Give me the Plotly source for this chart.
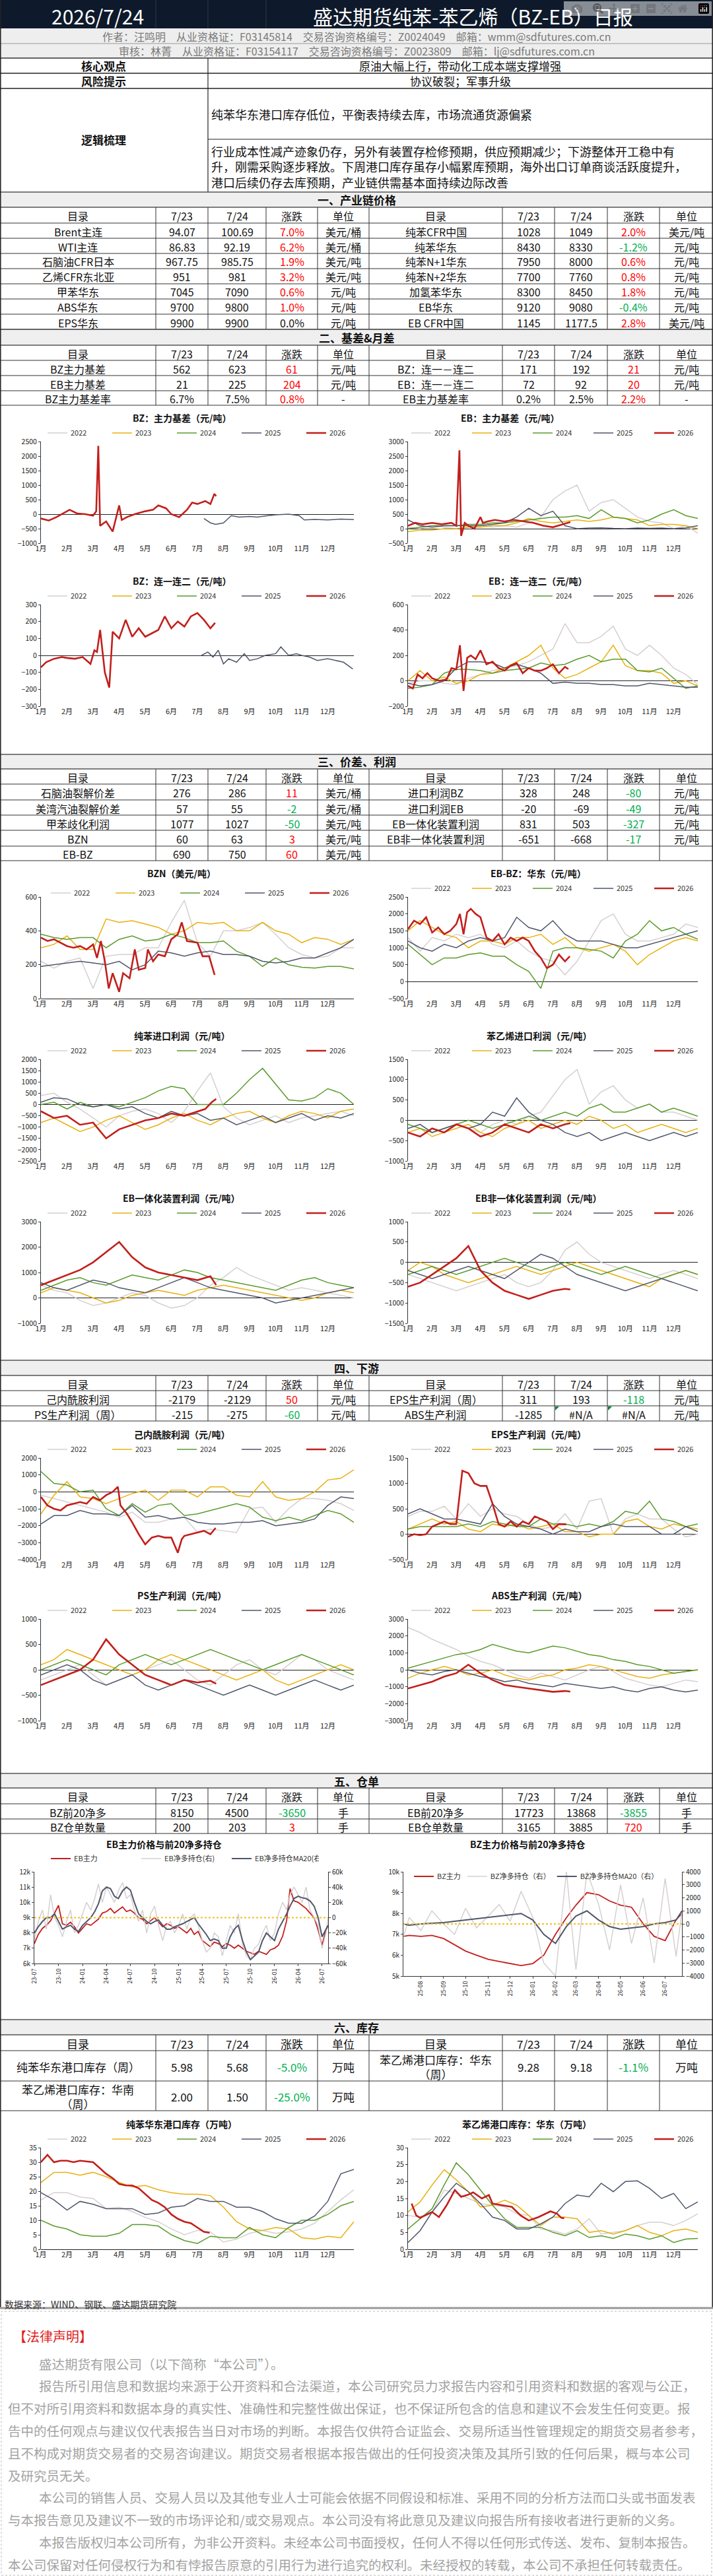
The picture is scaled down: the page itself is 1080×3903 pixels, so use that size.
import plotly.graph_objects as go

# Page size in px and base font
W, H = 1080, 3903
FONT = "Noto Sans CJK SC"
RED, GREEN = "#ff0000", "#00b050"
YEAR_COLORS = {"2022": "#d6cfd0", "2023": "#e8b00f", "2024": "#5a9a2c", "2025": "#4f566a", "2026": "#c21f1c"}

# ---------------- header texts ----------------
report_date = "2026/7/24"
report_title = "盛达期货纯苯-苯乙烯（BZ-EB）日报"
author_line = "作者：汪鸣明　从业资格证：F03145814　交易咨询资格编号：Z0024049　邮箱：wmm@sdfutures.com.cn"
review_line = "审核：林菁　从业资格证：F03154117　交易咨询资格编号：Z0023809　邮箱：lj@sdfutures.com.cn"
core_view = "原油大幅上行，带动化工成本端支撑增强"
risk_note = "协议破裂；军事升级"
logic_1 = "纯苯华东港口库存低位，平衡表持续去库，市场流通货源偏紧"
logic_2 = ["行业成本性减产迹象仍存，另外有装置存检修预期，供应预期减少；下游整体开工稳中有",
           "升，刚需采购逐步释放。下周港口库存虽存小幅累库预期，海外出口订单商谈活跃度提升，",
           "港口后续仍存去库预期，产业链供需基本面持续边际改善"]

# ---------------- table rows ----------------
table_head = ("目录", "7/23", "7/24", "涨跌", "单位", "目录", "7/23", "7/24", "涨跌", "单位")
chain_rows = [
    ("Brent主连", "94.07", "100.69", "7.0%", "美元/桶", "纯苯CFR中国", "1028", "1049", "2.0%", "美元/吨"),
    ("WTI主连", "86.83", "92.19", "6.2%", "美元/桶", "纯苯华东", "8430", "8330", "-1.2%", "元/吨"),
    ("石脑油CFR日本", "967.75", "985.75", "1.9%", "美元/吨", "纯苯N+1华东", "7950", "8000", "0.6%", "元/吨"),
    ("乙烯CFR东北亚", "951", "981", "3.2%", "美元/吨", "纯苯N+2华东", "7700", "7760", "0.8%", "元/吨"),
    ("甲苯华东", "7045", "7090", "0.6%", "元/吨", "加氢苯华东", "8300", "8450", "1.8%", "元/吨"),
    ("ABS华东", "9700", "9800", "1.0%", "元/吨", "EB华东", "9120", "9080", "-0.4%", "元/吨"),
    ("EPS华东", "9900", "9900", "0.0%", "元/吨", "EB CFR中国", "1145", "1177.5", "2.8%", "美元/吨"),
]
basis_rows = [
    ("BZ主力基差", "562", "623", "61", "元/吨", "BZ：连一－连二", "171", "192", "21", "元/吨"),
    ("EB主力基差", "21", "225", "204", "元/吨", "EB：连一－连二", "72", "92", "20", "元/吨"),
    ("BZ主力基差率", "6.7%", "7.5%", "0.8%", "-", "EB主力基差率", "0.2%", "2.5%", "2.2%", "-"),
]
spread_rows = [
    ("石脑油裂解价差", "276", "286", "11", "美元/桶", "进口利润BZ", "328", "248", "-80", "元/吨"),
    ("美湾汽油裂解价差", "57", "55", "-2", "美元/桶", "进口利润EB", "-20", "-69", "-49", "元/吨"),
    ("甲苯歧化利润", "1077", "1027", "-50", "美元/吨", "EB一体化装置利润", "831", "503", "-327", "元/吨"),
    ("BZN", "60", "63", "3", "美元/吨", "EB非一体化装置利润", "-651", "-668", "-17", "元/吨"),
    ("EB-BZ", "690", "750", "60", "美元/吨", "", "", "", "", ""),
]
down_rows = [
    ("己内酰胺利润", "-2179", "-2129", "50", "元/吨", "EPS生产利润（周）", "311", "193", "-118", "元/吨"),
    ("PS生产利润（周）", "-215", "-275", "-60", "元/吨", "ABS生产利润", "-1285", "#N/A", "#N/A", "元/吨"),
]
receipt_rows = [
    ("BZ前20净多", "8150", "4500", "-3650", "手", "EB前20净多", "17723", "13868", "-3855", "手"),
    ("BZ仓单数量", "200", "203", "3", "手", "EB仓单数量", "3165", "3885", "720", "手"),
]
stock_rows = [
    ("纯苯华东港口库存（周）", "5.98", "5.68", "-5.0%", "万吨", "苯乙烯港口库存：华东<br>（周）", "9.28", "9.18", "-1.1%", "万吨"),
    ("苯乙烯港口库存：华南<br>（周）", "2.00", "1.50", "-25.0%", "万吨", "", "", "", "", ""),
]

# ---------------- seasonal series (x = month, 1 = 1月1日) ----------------
MONTH_TICKS = [1, 2, 3, 4, 5, 6, 7, 8, 9, 10, 11, 12]
MONTH_LABELS = ["1月", "2月", "3月", "4月", "5月", "6月", "7月", "8月", "9月", "10月", "11月", "12月"]
GRID = [1, 1.5, 2, 2.5, 3, 3.5, 4, 4.5, 5, 5.5, 6, 6.5, 7, 7.5, 8, 8.5, 9, 9.5, 10, 10.5, 11, 11.5, 12, 12.5, 13]
GRID_26 = [1, 1.5, 2, 2.5, 3, 3.5, 4, 4.5, 5, 5.5, 6, 6.5, 7, 7.5, 7.72]

# BZ main basis
bz_basis_2025_x = [7.25, 7.5, 7.7, 8, 8.3, 8.6, 9, 9.3, 9.6, 10, 10.5, 10.9, 11.1, 11.5, 12, 12.5, 13]
bz_basis_2025 = [-150, -300, -350, -300, -50, -100, -80, -100, -60, -20, 0, -50, -200, -180, -200, -170, -190]
bz_basis_2026_x = [1, 1.3, 1.6, 1.9, 2.1, 2.4, 2.7, 3.0, 3.12, 3.2, 3.27, 3.5, 3.75, 4.0, 4.1, 4.3, 4.6, 5.0,
                   5.3, 5.5, 5.8, 6.0, 6.3, 6.6, 6.8, 7.0, 7.3, 7.5, 7.65, 7.72]
bz_basis_2026 = [-150, -220, -100, 50, 150, 20, 0, -50, 100, 2350, -400, -250, -600, 300, -200, -100, 0, 100,
                 150, 300, 200, 0, -100, 150, 400, 350, 450, 350, 700, 620]

# EB main basis
eb_basis_2022 = [50, 0, 100, 50, 0, 50, 100, 50, 100, 50, 200, 400, 1000, 1300, 1500, 600, 900, 1000, 700, 400, 250, 200, 0, 100, -150]
eb_basis_2023 = [-100, -50, -50, 0, 0, 50, 50, 100, 100, 200, 350, 250, 200, 250, 300, 250, 300, 400, 350, 300, 100, 150, 150, 100, 0]
eb_basis_2024 = [0, 50, 100, 100, 100, 150, 150, 200, 200, 250, 300, 350, 400, 400, 450, 350, 650, 400, 350, 200, 300, 500, 650, 450, 350]
eb_basis_2025 = [300, 100, 50, 100, 100, 100, 100, 150, 200, 400, 700, 450, 600, 100, 0, 20, 30, 10, 0, 20, 10, 20, 0, 30, 100]
eb_basis_2026_x = [1, 1.3, 1.6, 2, 2.4, 2.8, 3.0, 3.13, 3.2, 3.35, 3.5, 3.75, 4.0, 4.1, 4.3, 4.6, 5.0, 5.4, 5.8, 6.2, 6.6, 7.0, 7.4, 7.72]
eb_basis_2026 = [100, 200, 150, 200, 150, 200, 100, 2700, -250, 200, 100, 0, 400, 200, 250, 300, 250, 300, 250, 200, 100, 50, 150, 225]

# BZ 1st-2nd month spread
bz_spread_2025_x = [7.16, 7.4, 7.6, 7.8, 8.0, 8.2, 8.5, 8.8, 9.0, 9.3, 9.6, 10.0, 10.2, 10.5, 10.8, 11.0, 11.3, 11.6, 12.0, 12.3, 12.6, 12.96]
bz_spread_2025 = [0, 20, -10, 30, -50, -20, -40, 10, -30, -20, 0, 10, 50, 0, 10, 0, -10, -30, -20, -30, -40, -80]
bz_spread_2026_x = [1, 1.2, 1.5, 1.8, 2.0, 2.3, 2.6, 2.9, 3.05, 3.15, 3.27, 3.45, 3.62, 3.75, 4.0, 4.25, 4.5, 4.75, 5.0, 5.25,
                    5.5, 5.75, 6.0, 6.25, 6.5, 6.75, 7.0, 7.25, 7.5, 7.68]
bz_spread_2026 = [-70, -40, -20, -10, -15, -20, -10, -50, 30, 20, 150, -100, -190, 140, 100, 210, 110, 160, 110, 130,
                  150, 230, 160, 200, 170, 230, 250, 210, 160, 192]

# EB 1st-2nd month spread
eb_spread_2022 = [-20, 0, 0, -20, -30, 20, 50, 80, 100, 120, 150, 200, 250, 450, 300, 300, 350, 430, 250, 200, 280, 200, 100, 50, -30]
eb_spread_2023 = [0, 80, 0, 30, -20, 0, 50, 60, 100, 150, 200, 280, 100, 20, 50, 100, 150, 280, 120, 80, 80, 60, -20, 0, -40]
eb_spread_2024 = [-60, -50, -30, 60, 90, 90, 80, 60, 80, 90, 100, 140, 120, 130, 170, 200, 150, 170, 170, 80, 70, 100, 20, -60, -40]
eb_spread_2025 = [-20, -40, -30, 0, 100, 150, 150, 140, 100, 130, 100, 60, -20, -10, -20, -20, -30, -30, -40, -40, -20, -30, -40, -50, -50]
eb_spread_2026_x = [1, 1.2, 1.4, 1.6, 1.8, 2.0, 2.3, 2.6, 2.8, 3.0, 3.15, 3.3, 3.45, 3.6, 3.8, 4.0, 4.25, 4.5, 4.75, 5.0,
                    5.25, 5.5, 5.75, 6.0, 6.25, 6.5, 6.75, 7.0, 7.25, 7.5, 7.64]
eb_spread_2026 = [-40, -60, 50, 20, 60, 20, 0, 10, 100, 90, 280, -80, 180, 200, 170, 240, 130, 150, 100, 80,
                  120, 140, 60, 100, 80, 80, 100, 130, 60, 110, 92]

# BZN
bzn_2022 = [220, 180, 220, 240, 60, 250, 260, 260, 300, 300, 450, 580, 330, 250, 400, 400, 420, 450, 380, 300, 260, 240, 250, 300, 300]
bzn_2023 = [300, 320, 370, 290, 290, 470, 450, 460, 440, 420, 380, 400, 450, 440, 450, 400, 400, 450, 400, 380, 330, 360, 350, 320, 350]
bzn_2024 = [380, 360, 350, 360, 360, 300, 350, 370, 340, 350, 380, 360, 330, 330, 340, 280, 250, 190, 240, 200, 185, 180, 190, 190, 175]
bzn_2025 = [190, 200, 210, 220, 210, 200, 220, 170, 200, 280, 270, 250, 270, 280, 260, 260, 250, 220, 210, 220, 240, 240, 270, 300, 350]
bzn_2026_x = [1, 1.25, 1.5, 1.75, 2, 2.25, 2.5, 2.75, 3, 3.15, 3.3, 3.45, 3.6, 3.75, 4, 4.15, 4.4, 4.6, 4.75, 5,
              5.1, 5.3, 5.5, 5.75, 6, 6.25, 6.4, 6.6, 7, 7.2, 7.45, 7.66]
bzn_2026 = [360, 340, 350, 330, 310, 300, 310, 290, 320, 240, 340, 220, 60, 150, 40, 150, 120, 290, 170, 180,
            290, 220, 260, 250, 350, 380, 450, 340, 330, 250, 250, 140]

# EB-BZ east china
eb_bz_2022 = [1300, 900, 1300, 1200, 1400, 1300, 1400, 1100, 1000, 1200, 900, 700, 600, 200, 600, 1200, 1800, 2000, 1400, 1200, 1200, 1300, 1400, 1700, 1600]
eb_bz_2023 = [1500, 1800, 1600, 1400, 1300, 1000, 1200, 1200, 1100, 1300, 1300, 1400, 1100, 1300, 1000, 900, 1000, 1100, 900, 500, 800, 1000, 1200, 1300, 1200]
eb_bz_2024 = [1100, 800, 500, 700, 700, 800, 850, 750, 750, 500, 300, -200, 900, 1000, 1000, 950, 900, 700, 1200, 1400, 1800, 1500, 1600, 1400, 1250]
eb_bz_2025 = [1200, 1000, 900, 1100, 1000, 1200, 1300, 1200, 1300, 1900, 1600, 1500, 1800, 1400, 1200, 1200, 1200, 1100, 1000, 1000, 1100, 1200, 1300, 1400, 1500]
eb_bz_2026_x = [1, 1.25, 1.5, 1.75, 2, 2.25, 2.5, 2.75, 3, 3.15, 3.3, 3.45, 3.6, 3.8, 4, 4.25, 4.5, 4.75, 5, 5.25,
                5.5, 5.75, 6, 6.25, 6.5, 6.75, 7, 7.25, 7.5, 7.7]
eb_bz_2026 = [1550, 1800, 1700, 1900, 1450, 1600, 1400, 1500, 1700, 2000, 1400, 2050, 2150, 2000, 1900, 1300, 1200, 1400, 1100, 1300,
              1200, 1300, 1200, 900, 700, 400, 500, 800, 600, 750]

# BZ import profit
bz_import_2022 = [400, 500, 100, -200, -600, -1000, -500, -300, -200, -400, -800, -300, 600, 1400, -100, -600, -900, -700, -500, -800, -600, -500, -400, -300, -500]
bz_import_2023 = [-800, -600, -900, -1200, -1000, -700, -500, -800, -1100, -900, -600, -400, -700, -900, -600, -400, -300, -600, -800, -500, -300, -400, -600, -300, -200]
bz_import_2024 = [0, 100, -200, 100, -100, 0, -100, 100, 300, 600, 800, 700, 0, 0, 0, 500, 1100, 1600, 900, 200, 150, 300, 700, 500, 0]
bz_import_2025 = [100, 300, 250, 0, -100, 0, -200, -100, -400, -600, -300, -500, -400, -700, -600, -900, -700, -500, -800, -600, -400, -700, -500, -600, -400]
bz_import_2026_x = [1, 1.5, 2, 2.5, 3, 3.5, 4, 4.5, 5, 5.5, 6, 6.5, 7, 7.3, 7.55, 7.72]
bz_import_2026 = [-300, -600, -500, -900, -800, -1500, -1100, -900, -700, -600, -400, -500, -300, -200, 100, 248]

# EB import profit
eb_import_2022 = [-200, -100, -300, -200, -100, -200, -300, -100, 0, -100, 100, 200, 600, 1000, 1250, 400, 700, 850, 500, 300, 400, 200, 200, 100, 0]
eb_import_2023 = [-300, -200, -400, -300, -200, -100, -300, -400, -200, -100, 0, -200, -100, 0, -100, 100, 0, -200, -100, -300, -200, -100, -200, -300, -200]
eb_import_2024 = [-100, -200, -300, -200, -100, 0, -100, -200, -100, 0, 100, 0, 100, 200, 100, 300, 400, 200, 200, 300, 400, 200, 300, 200, 100]
eb_import_2025 = [-200, -100, -300, -200, -100, -200, -100, 200, 100, 550, 200, 0, -100, -300, -400, -300, -500, -400, -300, -400, -500, -400, -300, -400, -300]
eb_import_2026 = [-300, -400, -200, -300, -100, -200, -400, -300, -100, -200, -300, -100, -200, -100, -69]

# EB integrated plant profit
eb_int_2022 = [500, 300, 200, -100, -300, -200, 0, 200, 100, -200, -400, -300, 0, 500, 800, 1200, 900, 700, 500, 300, 400, 300, 200, 100, 0]
eb_int_2023 = [200, 400, 300, 200, 0, -200, -100, 100, 200, 300, 200, 100, 300, 400, 500, 400, 300, 200, 100, 0, -100, 0, 200, 300, 200]
eb_int_2024 = [300, 500, 700, 800, 600, 500, 700, 900, 800, 700, 900, 1100, 1000, 800, 700, 600, 500, 400, 300, 500, 700, 800, 600, 500, 400]
eb_int_2025 = [600, 400, 300, 500, 700, 600, 400, 300, 200, 400, 600, 800, 600, 400, 300, 200, 100, 0, -200, -100, 0, 100, 200, 300, 400]
eb_int_2026 = [500, 700, 900, 1100, 1400, 1800, 2200, 1600, 1200, 1000, 900, 800, 700, 850, 503]

# EB non-integrated plant profit
eb_nonint_2022 = [-300, -400, -500, -600, -700, -600, -500, -400, -300, -500, -600, -500, -200, 300, 500, 200, 0, -100, -200, -300, -400, -300, -200, -300, -400]
eb_nonint_2023 = [-200, 0, -100, -300, -400, -500, -400, -300, -200, -100, -200, -300, -200, -100, 0, -100, -200, -300, -400, -500, -600, -400, -300, -200, -300]
eb_nonint_2024 = [-300, -200, -100, -200, -300, -200, -100, 0, 100, 0, -100, -200, -100, 0, -100, -200, -300, -200, -100, -200, -300, -400, -300, -200, -300]
eb_nonint_2025 = [-200, -300, -400, -300, -200, -100, -200, -300, -400, -200, 0, 200, 100, -100, -300, -400, -500, -600, -700, -600, -500, -400, -500, -600, -700]
eb_nonint_2026 = [-600, -500, -300, -100, 100, 400, -200, -500, -700, -800, -900, -800, -700, -651, -668]

# Caprolactam profit
cpl_2022 = [-200, -400, -600, -800, -1000, -1200, -1500, -1200, -1800, -1800, -1600, -1500, -2400, -2200, -2300, -2400, -1000, -900, -1800, -1000, -400, -400, -500, -700, -1100]
cpl_2023 = [-1300, -200, 600, -300, -400, -700, -400, -100, 100, -500, 100, 100, -300, 300, 300, -200, -300, 600, -300, -500, -400, 0, 700, 800, 1300]
cpl_2024 = [1200, 500, 400, 0, 100, -1000, -1400, -700, -1200, -800, -700, -1400, -1300, -1100, -900, -700, -900, -1500, -1700, -1500, -1700, -1400, -1100, -1300, -1800]
cpl_2025 = [-1900, -1400, -1400, -1100, -1300, -1300, -1400, -800, -1500, -1400, -1600, -1500, -1800, -1900, -1900, -1800, -1800, -1700, -2000, -1900, -1800, -1600, -800, -300, -400]
cpl_2026_x = [1, 1.25, 1.5, 1.75, 2, 2.25, 2.5, 2.75, 3, 3.25, 3.5, 3.75, 3.95, 4.05, 4.3, 4.5, 4.75, 5, 5.25, 5.5,
              5.75, 6, 6.25, 6.4, 6.5, 6.75, 7, 7.25, 7.5, 7.7]
cpl_2026 = [-300, -800, -1000, -1100, -800, -700, -600, -700, -300, -500, -200, 0, 300, -800, -1300, -1800, -2500, -3100, -2700, -2600,
            -2700, -2700, -3600, -2800, -2600, -2500, -2400, -2300, -2500, -2129]

# EPS production profit
eps_2022 = [350, 450, 450, 550, 300, 600, 350, 500, 400, 350, 200, 100, 150, 400, 100, 650, 700, 0, 300, 400, 300, 300, 100, -50, 0]
eps_2023 = [100, 200, 300, 200, 250, 100, 50, 200, 150, 200, 100, 150, 200, 50, 50, -50, 0, 0, 250, 300, 150, 100, 200, 150, 100]
eps_2024 = [100, 150, 150, 150, 150, 200, 150, 250, 200, 150, 150, 300, 200, 200, 150, 200, 150, 250, 450, 400, 650, 300, 250, 150, 200]
eps_2025 = [400, 500, 400, 300, 300, 250, 200, 600, 350, 200, 150, 100, 0, 100, 50, 50, 150, 200, 150, 150, 150, 0, 0, 150, 50]
eps_2026_x = [1, 1.25, 1.5, 1.75, 2, 2.25, 2.5, 2.75, 3, 3.25, 3.5, 3.75, 4, 4.25, 4.5, 4.75, 5, 5.25, 5.5, 5.75,
              6, 6.25, 6.5, 6.75, 7, 7.25, 7.55]
eps_2026 = [-50, 0, -20, 0, 150, 200, 250, 200, 200, 1250, 1200, 1000, 950, 950, 600, 200, 150, 250, 150, 250,
            200, 350, 300, 250, 100, 200, 193]

# PS production profit
ps_2022 = [-200, -100, 0, 100, -100, -300, -200, -100, 0, 100, 200, 0, -200, -300, -100, 100, 200, 0, -100, 100, 300, 200, 0, -100, -200]
ps_2023 = [100, 200, 400, 300, 200, 100, 0, -100, 0, 200, 300, 200, 100, 0, -100, -200, -100, 0, -200, -300, -200, -100, 0, 100, 0]
ps_2024 = [0, 100, 200, 100, 0, -100, 100, 200, 300, 200, 100, 200, 300, 400, 300, 200, 100, 0, 100, 200, 300, 200, 100, 0, -100]
ps_2025 = [-100, 0, 100, 0, -200, -300, -200, -100, -300, -400, -300, -200, -300, -400, -500, -400, -300, -400, -500, -400, -300, -200, -300, -400, -300]
ps_2026 = [-300, -200, -100, 0, 200, 600, 300, 100, -100, -200, -300, -200, -250, -215, -275]

# ABS production profit
abs_2022 = [2500, 2200, 1800, 1500, 1200, 800, 500, 300, 0, -300, -500, -200, -400, -600, -300, 0, 200, -100, -500, -700, -900, -1000, -800, -600, -700]
abs_2023 = [-500, -200, 0, 200, 0, -300, -200, 0, -300, -500, -600, -400, -300, 0, 100, 300, 200, 0, -200, -400, -500, -300, -200, -100, 0]
abs_2024 = [100, 300, 500, 700, 900, 1000, 1200, 1500, 1300, 1100, 1000, 1200, 1400, 1300, 1100, 900, 800, 600, 500, 300, 200, 0, -200, -100, 0]
abs_2025 = [0, -200, -300, -100, 0, -200, -400, -500, -700, -600, -800, -900, -1000, -800, -900, -1000, -1100, -1000, -1200, -1300, -1100, -1000, -1200, -1300, -1200]
abs_2026 = [-1100, -900, -700, -400, -200, 300, -200, -600, -900, -1000, -1100, -1200, -1300, -1250, -1285]

# BZ east china port stock (10kt)
bz_stock_2022 = [17, 19.5, 19.5, 18, 17.5, 14, 14.5, 13, 11, 9.5, 7, 5, 6.5, 6, 2.5, 3.5, 5.5, 6.5, 5.5, 6, 7, 9, 13, 17, 20.5]
bz_stock_2023 = [23, 26.5, 26.5, 25.5, 26.5, 25, 23, 21.5, 22, 20.5, 19.5, 19, 19, 18.5, 14.5, 9.5, 7, 6.5, 7.5, 7, 4, 3.5, 4.5, 4, 9.5]
bz_stock_2024 = [10, 8, 7, 5, 4.5, 4.5, 5.5, 8.5, 8.5, 8, 5, 3, 2, 4.5, 4, 4, 7.5, 5, 4, 7.5, 10, 10, 12, 15, 16.5]
bz_stock_2025 = [19.5, 17, 13.5, 16.5, 15.5, 14, 14, 14, 12, 12.5, 14.5, 15, 17.5, 16.5, 16.5, 14.5, 14.5, 13, 10.5, 9, 9, 11.5, 16.5, 26, 27.5]
bz_stock_2026_x = [1, 1.25, 1.5, 1.75, 2, 2.25, 2.5, 2.75, 3, 3.25, 3.5, 3.75, 4, 4.25, 4.5, 4.75, 5, 5.25, 5.5, 5.75,
                   6, 6.25, 6.5, 6.75, 7, 7.25, 7.47]
bz_stock_2026 = [30, 32.5, 30, 30.5, 30.5, 30, 30.5, 30.3, 30, 28, 26, 24.5, 22.5, 22, 22, 21, 19, 17, 16, 14.5,
                 12, 10.5, 9.5, 9, 7.5, 6, 5.68]

# EB east china port stock (10kt)
eb_stock_2022 = [10, 9.5, 11, 17.5, 16.5, 15, 13.5, 13, 12.5, 10.5, 10, 6, 5.5, 4.5, 6, 9, 4.5, 5, 5.5, 7, 8, 8, 7, 8.5, 10.5]
eb_stock_2023 = [11, 14, 19, 23.5, 20.5, 17, 12.5, 13, 14.5, 13, 10, 7, 9.5, 9.5, 9, 5, 5.5, 4.5, 5.5, 7, 5, 4, 5.5, 6, 5]
eb_stock_2024 = [6, 9, 12, 19, 25.5, 22, 17.5, 13, 9, 6.5, 6.5, 6.5, 5, 4, 5.5, 3.5, 4, 3.2, 4.5, 4, 3, 4, 2, 3, 3.2]
eb_stock_2025 = [2, 5.5, 11, 15.5, 19.5, 17, 13.5, 9.5, 8.5, 6, 6, 7.5, 9.5, 13.5, 16, 15.5, 19.5, 17, 20, 20.2, 18, 15, 16.5, 12, 14]
eb_stock_2026_x = [1.15, 1.34, 1.5, 1.7, 2.0, 2.28, 2.6, 2.94, 3.2, 3.45, 3.7, 4.06, 4.35, 4.5, 4.9, 5.3, 5.66, 6.0, 6.4, 6.7,
                   6.9, 7.17, 7.35, 7.47]
eb_stock_2026 = [13.5, 10, 9.3, 10, 11, 9.5, 13, 17.5, 15.5, 16, 16.8, 15, 16, 13.5, 13, 12.5, 10, 8.5, 9.5, 10.5,
                 11.2, 10.5, 9.28, 9.18]

# ---------------- futures price vs top-20 net long ----------------
eb_dates = ["2023-07-01", "2023-07-16", "2023-08-01", "2023-08-16", "2023-09-01", "2023-09-16", "2023-10-01", "2023-10-16",
            "2023-11-01", "2023-11-16", "2023-12-01", "2023-12-16", "2024-01-01", "2024-01-16", "2024-02-01", "2024-02-16",
            "2024-03-01", "2024-03-16", "2024-04-01", "2024-04-16", "2024-05-01", "2024-05-16", "2024-06-01", "2024-06-16",
            "2024-07-01", "2024-07-16", "2024-08-01", "2024-08-16", "2024-09-01", "2024-09-16", "2024-10-01", "2024-10-16",
            "2024-11-01", "2024-11-16", "2024-12-01", "2024-12-16", "2025-01-01", "2025-01-16", "2025-02-01", "2025-02-16",
            "2025-03-01", "2025-03-16", "2025-04-01", "2025-04-16", "2025-05-01", "2025-05-16", "2025-06-01", "2025-06-16",
            "2025-07-01", "2025-07-16", "2025-08-01", "2025-08-16", "2025-09-01", "2025-09-16", "2025-10-01", "2025-10-16",
            "2025-11-01", "2025-11-16", "2025-12-01", "2025-12-16", "2026-01-01", "2026-01-16", "2026-02-01", "2026-02-16",
            "2026-03-01", "2026-03-16", "2026-04-01", "2026-04-16", "2026-05-01", "2026-05-16", "2026-06-01", "2026-06-16",
            "2026-07-01", "2026-07-16", "2026-07-24"]
eb_main = [7300, 7900, 8300, 8500, 8800, 9300, 9800, 8600, 8500, 8700, 8400, 8000,
           8300, 8600, 8500, 8700, 8900, 9300, 9400, 9600, 9300, 9500, 9700, 9400,
           9500, 9300, 9000, 8900, 8600, 8800, 9000, 8700, 8400, 8600, 8500, 8300,
           8400, 8200, 8000, 8300, 7900, 8100, 7500, 7300, 7100, 7400, 7300, 7100,
           7300, 7200, 7000, 7200, 7000, 6800, 6700, 6600, 6800, 6700, 6600, 6900,
           7000, 7200, 7800, 8800, 10900, 10100, 10000, 9800, 9600, 9300, 9000, 8200,
           7200, 8200, 8500]
eb_net = [-30000, -5000, 10000, -15000, 30000, 0, -10000, -25000, -5000, 10000, -20000, -10000,
          5000, 20000, 10000, 25000, 44000, 20000, 40000, 30000, 20000, 35000, 46000, 25000,
          30000, 10000, -5000, 10000, -20000, 5000, 15000, -10000, -30000, -10000, -5000, -20000,
          -10000, 5000, -15000, 0, 5000, -10000, -30000, -45000, -40000, -20000, -25000, -50000,
          -30000, -10000, -20000, 5000, -35000, -50000, -55000, -40000, -35000, -20000, -10000, -30000,
          -20000, 5000, 20000, 10000, 30000, 40000, 30000, 20000, 40000, 10000, 0, -10000,
          -40000, -20000, 0]
eb_net_ma20 = [-20000, -12000, -5000, 0, 0, 5000, -5000, -15000, -12000, -10000, -15000, -18000,
               -10000, -5000, 0, 8000, 18000, 35000, 40000, 38000, 28000, 25000, 35000, 40000,
               36000, 20000, 5000, 0, -5000, -8000, -5000, -3000, -10000, -15000, -15000, -12000,
               -10000, -8000, -5000, -2000, 0, -8000, -15000, -22000, -30000, -28000, -30000, -40000,
               -40000, -25000, -15000, -10000, -30000, -45000, -55000, -50000, -45000, -30000, -20000, -25000,
               -30000, -15000, -5000, 5000, 15000, 25000, 28000, 26000, 25000, 22000, 15000, 0,
               -25000, -15000, -10000]

bz_dates = ["2025-07-08", "2025-07-16", "2025-08-01", "2025-08-16", "2025-09-01", "2025-09-16", "2025-10-01", "2025-10-16",
            "2025-11-01", "2025-11-16", "2025-12-01", "2025-12-16", "2026-01-01", "2026-01-16", "2026-02-01", "2026-02-16",
            "2026-03-01", "2026-03-16", "2026-04-01", "2026-04-16", "2026-05-01", "2026-05-16", "2026-06-01", "2026-06-16",
            "2026-07-01", "2026-07-16", "2026-07-24"]
bz_main = [6900, 6950, 6900, 6950, 6800, 6500, 6200, 6000, 5800, 5700, 5600, 5500, 5600, 6000,
           7000, 7800, 8400, 9000, 8900, 8600, 8400, 8300, 7500, 6900, 6700, 7700, 8000]
bz_net = [-1000, 500, -500, 1000, 0, -800, 1200, -300, 600, 1500, 200, 2500, 500, -3000,
          -4000, 4000, -3500, 4000, 1500, -2000, 3000, -1500, 2000, -3000, 3500, -2500, 1000]
bz_net_ma20 = [0, -100, 0, 50, 100, 200, 300, 400, 500, 600, 700, 800, 300, -800,
               -1500, -200, 600, 1000, 300, -200, -400, -300, -200, 0, 100, 300, 1000]

# ---------------- legal text ----------------
source_note = "数据来源：WIND、钢联、盛达期货研究院"
legal_title = "【法律声明】"
legal_lines = [
    (True, "盛达期货有限公司（以下简称“本公司”）。"),
    (True, "报告所引用信息和数据均来源于公开资料和合法渠道，本公司研究员力求报告内容和引用资料和数据的客观与公正，"),
    (False, "但不对所引用资料和数据本身的真实性、准确性和完整性做出保证，也不保证所包含的信息和建议不会发生任何变更。报"),
    (False, "告中的任何观点与建议仅代表报告当日对市场的判断。本报告仅供符合证监会、交易所适当性管理规定的期货交易者参考，"),
    (False, "且不构成对期货交易者的交易咨询建议。期货交易者根据本报告做出的任何投资决策及其所引致的任何后果，概与本公司"),
    (False, "及研究员无关。"),
    (True, "本公司的销售人员、交易人员以及其他专业人士可能会依据不同假设和标准、采用不同的分析方法而口头或书面发表"),
    (False, "与本报告意见及建议不一致的市场评论和/或交易观点。本公司没有将此意见及建议向报告所有接收者进行更新的义务。"),
    (True, "本报告版权归本公司所有，为非公开资料。未经本公司书面授权，任何人不得以任何形式传送、发布、复制本报告。"),
    (False, "本公司保留对任何侵权行为和有悖报告原意的引用行为进行追究的权利。未经授权的转载，本公司不承担任何转载责任。"),
]

# ---------------- chart specs ----------------
Y5 = ["2022", "2023", "2024", "2025", "2026"]


def five(d22, d23, d24, d25, d26, x26=GRID_26):
    return list(zip(Y5, [GRID, GRID, GRID, GRID, x26], [d22, d23, d24, d25, d26]))


SEASONAL = [
    dict(title="BZ：主力基差（元/吨）", side=0, top=633, tx=275, yr=[-1000, 2500], dt=500,
         series=list(zip(Y5, [[], [], [], bz_basis_2025_x, bz_basis_2026_x], [[], [], [], bz_basis_2025, bz_basis_2026]))),
    dict(title="EB：主力基差（元/吨）", side=1, top=633, tx=773, yr=[-500, 3000], dt=500,
         series=five(eb_basis_2022, eb_basis_2023, eb_basis_2024, eb_basis_2025, eb_basis_2026, eb_basis_2026_x)),
    dict(title="BZ：连一连二（元/吨）", side=0, top=880, tx=275, yr=[-300, 300], dt=100,
         series=list(zip(Y5, [[], [], [], bz_spread_2025_x, bz_spread_2026_x], [[], [], [], bz_spread_2025, bz_spread_2026]))),
    dict(title="EB：连一连二（元/吨）", side=1, top=880, tx=815, yr=[-200, 600], dt=200,
         series=five(eb_spread_2022, eb_spread_2023, eb_spread_2024, eb_spread_2025, eb_spread_2026, eb_spread_2026_x)),
    dict(title="BZN（美元/吨）", side=0, top=1323, tx=275, yr=[0, 600], dt=200, leg=30, lx=72,
         series=five(bzn_2022, bzn_2023, bzn_2024, bzn_2025, bzn_2026, bzn_2026_x)),
    dict(title="EB-BZ：华东（元/吨）", side=1, top=1323, tx=815, yr=[-500, 2500], dt=500,
         series=five(eb_bz_2022, eb_bz_2023, eb_bz_2024, eb_bz_2025, eb_bz_2026, eb_bz_2026_x)),
    dict(title="纯苯进口利润（元/吨）", side=0, top=1569, tx=275, yr=[-2500, 2000], dt=500,
         series=five(bz_import_2022, bz_import_2023, bz_import_2024, bz_import_2025, bz_import_2026, bz_import_2026_x)),
    dict(title="苯乙烯进口利润（元/吨）", side=1, top=1569, tx=816, yr=[-1000, 1500], dt=500,
         series=five(eb_import_2022, eb_import_2023, eb_import_2024, eb_import_2025, eb_import_2026)),
    dict(title="EB一体化装置利润（元/吨）", side=0, top=1815, tx=275, yr=[-1000, 3000], dt=1000,
         series=five(eb_int_2022, eb_int_2023, eb_int_2024, eb_int_2025, eb_int_2026)),
    dict(title="EB非一体化装置利润（元/吨）", side=1, top=1815, tx=816, yr=[-1500, 1000], dt=500,
         series=five(eb_nonint_2022, eb_nonint_2023, eb_nonint_2024, eb_nonint_2025, eb_nonint_2026)),
    dict(title="己内酰胺利润（元/吨）", side=0, top=2173, tx=275, yr=[-4000, 2000], dt=1000,
         series=five(cpl_2022, cpl_2023, cpl_2024, cpl_2025, cpl_2026, cpl_2026_x)),
    dict(title="EPS生产利润（元/吨）", side=1, top=2173, tx=816, yr=[-500, 1500], dt=500,
         series=five(eps_2022, eps_2023, eps_2024, eps_2025, eps_2026, eps_2026_x)),
    dict(title="PS生产利润（元/吨）", side=0, top=2417, tx=275, yr=[-1000, 1000], dt=500,
         series=five(ps_2022, ps_2023, ps_2024, ps_2025, ps_2026)),
    dict(title="ABS生产利润（元/吨）", side=1, top=2417, tx=816, yr=[-3000, 3000], dt=1000,
         series=five(abs_2022, abs_2023, abs_2024, abs_2025, abs_2026)),
    dict(title="纯苯华东港口库存（万吨）", side=0, top=3218, tx=275, yr=[0, 35], dt=5,
         series=five(bz_stock_2022, bz_stock_2023, bz_stock_2024, bz_stock_2025, bz_stock_2026, bz_stock_2026_x)),
    dict(title="苯乙烯港口库存：华东（万吨）", side=1, top=3218, tx=798, yr=[0, 30], dt=5,
         series=five(eb_stock_2022, eb_stock_2023, eb_stock_2024, eb_stock_2025, eb_stock_2026, eb_stock_2026_x)),
]

COLS = [0, 236, 315, 403, 481, 559, 761, 840, 920, 999, 1080]

shapes, notes, axes = [], [], {}
fig = go.Figure()


def X(px):
    return px / W


def Y(py):
    return 1 - py / H


def rect(x0, y0, x1, y1, fill="rgba(0,0,0,0)", color="rgba(0,0,0,0)", width=1, dash=None):
    shapes.append(dict(type="rect", xref="paper", yref="paper", x0=X(x0), x1=X(x1), y0=Y(y1), y1=Y(y0),
                       fillcolor=fill, line=dict(color=color, width=width, dash=dash), layer="below"))


def hline(x0, x1, y, color="#333", width=1):
    shapes.append(dict(type="line", xref="paper", yref="paper", x0=X(x0), x1=X(x1), y0=Y(y), y1=Y(y),
                       line=dict(color=color, width=width)))


def vline(x, y0, y1, color="#333", width=1):
    shapes.append(dict(type="line", xref="paper", yref="paper", x0=X(x), x1=X(x), y0=Y(y0), y1=Y(y1),
                       line=dict(color=color, width=width)))


def text(x, y, s, size=16, color="#111", bold=False, anchor="center"):
    notes.append(dict(xref="paper", yref="paper", x=X(x), y=Y(y), text=f"<b>{s}</b>" if bold else s,
                      showarrow=False, xanchor=anchor, yanchor="middle", align=anchor if anchor != "center" else "center",
                      font=dict(size=size, color=color, family=FONT)))


def chg_color(s):
    if s.startswith("-") and len(s) > 1:
        return GREEN
    if s in ("0.0%", "#N/A", "-", ""):
        return "#111"
    return RED


# Function: section title bar
def section_bar(y0, y1, label):
    rect(0, y0, W, y1, fill="#efefef")
    hline(0, W, y0, color="#555", width=1.5)
    hline(0, W, y1, color="#555", width=1.5)
    text(W / 2, (y0 + y1) / 2, label, size=17, bold=True)


# Function: data table under a section bar
def table(top, heights, rows, size=16):
    ys = [top]
    for h in heights:
        ys.append(ys[-1] + h)
    for i, row in enumerate([table_head] + rows):
        y0, y1 = ys[i], ys[i + 1]
        hline(0, W, y1, color="#333", width=1.2)
        for j, s in enumerate(row):
            if not s:
                continue
            color = chg_color(s) if (i > 0 and j in (3, 8)) else "#111"
            text((COLS[j] + COLS[j + 1]) / 2, (y0 + y1) / 2 + 1, s, size=size, color=color)
    for c in COLS[1:-1]:
        vline(c, ys[0], ys[-1], color="#333", width=1)
    return ys


def refs(k):
    sfx = "" if k == 1 else str(k)
    return sfx, ("x" + sfx), ("y" + sfx)


# Function: seasonal line chart (one line per year)
def add_seasonal(k, spec):
    sfx, xr, yr = refs(k)
    t = spec["top"]
    x0, x1 = (62, 536) if spec["side"] == 0 else (618, 1057)
    leg = "legend" + sfx
    for year, xs, ys in spec["series"]:
        fig.add_trace(go.Scatter(x=xs or [None], y=ys or [None], mode="lines", name=year, xaxis=xr, yaxis=yr,
                                 legend=leg, hoverinfo="skip",
                                 line=dict(color=YEAR_COLORS[year], width=2.6 if year == "2026" else 1.5)))
    axes["xaxis" + sfx] = dict(domain=[X(x0), X(x1)], anchor=yr, range=[1, 13], tickvals=MONTH_TICKS,
                               ticktext=MONTH_LABELS, showgrid=False, zeroline=False, showline=False,
                               ticks="", tickfont=dict(size=11, color="#222", family=FONT))
    axes["yaxis" + sfx] = dict(domain=[Y(t + 190), Y(t + 36)], anchor=xr, range=spec["yr"], dtick=spec["dt"],
                               showgrid=False, zeroline=True, zerolinecolor="#222", zerolinewidth=1.2,
                               showline=True, linecolor="#333", linewidth=1, ticks="outside", ticklen=3,
                               tickcolor="#333", tickfont=dict(size=10.5, color="#222", family=FONT))
    # entrywidth excludes the ~45px line symbol + gap, so 53 -> 98px steps, 47 -> 92px steps
    lx = spec.get("lx", 67 if spec["side"] == 0 else 618)
    axes[leg] = dict(orientation="h", x=X(lx), y=Y(t + spec.get("leg", 23)),
                     xanchor="left", yanchor="middle", entrywidth=53 if spec["side"] == 0 else 47,
                     entrywidthmode="pixels", itemwidth=30, bgcolor="rgba(0,0,0,0)",
                     font=dict(size=11, color="#333", family=FONT))
    text(spec["tx"], t, spec["title"], size=14, bold=True)


# Function: price vs net long, two y axes
def add_dual(k, k2, title, tx, xpx, ypx, dates, main, net, ma, names, lr, ldt, rr, rdt, leg_xy, leg_w, xdt, xrange):
    sfx, xr, yr = refs(k)
    _, _, yr2 = refs(k2)
    leg = "legend" + sfx
    fig.add_trace(go.Scatter(x=dates, y=main, mode="lines", name=names[0], xaxis=xr, yaxis=yr, legend=leg,
                             hoverinfo="skip", line=dict(color="#c21f1c", width=1.8)))
    fig.add_trace(go.Scatter(x=dates, y=net, mode="lines", name=names[1], xaxis=xr, yaxis=yr2, legend=leg,
                             hoverinfo="skip", line=dict(color="#d6cfd0", width=1.5)))
    fig.add_trace(go.Scatter(x=dates, y=ma, mode="lines", name=names[2], xaxis=xr, yaxis=yr2, legend=leg,
                             hoverinfo="skip", line=dict(color="#4f566a", width=2)))
    tick_font = dict(size=10, color="#222", family=FONT)
    axes["xaxis" + sfx] = dict(domain=[X(xpx[0]), X(xpx[1])], anchor=yr, type="date", range=xrange,
                               dtick=xdt, tickformat="%y-%m", tickangle=-90, showgrid=False, zeroline=False,
                               showline=True, linecolor="#333", ticks="outside", ticklen=3,
                               tickfont=dict(size=9, color="#222", family=FONT))
    axes["yaxis" + sfx] = dict(domain=[Y(ypx[1]), Y(ypx[0])], anchor=xr, range=lr, dtick=ldt, showgrid=False,
                               zeroline=False, showline=True, linecolor="#333", ticks="outside", ticklen=3,
                               tickfont=tick_font)
    axes["yaxis" + str(k2)] = dict(overlaying=yr, anchor=xr, side="right", range=rr, dtick=rdt, showgrid=False,
                                   zeroline=False, showline=True, linecolor="#333", ticks="outside", ticklen=3,
                                   tickfont=tick_font)
    axes[leg] = dict(orientation="h", x=X(leg_xy[0]), y=Y(leg_xy[1]), xanchor="left", yanchor="middle",
                     bgcolor="rgba(0,0,0,0)", itemwidth=30, entrywidth=leg_w, entrywidthmode="pixels",
                     font=dict(size=11, color="#333", family=FONT))
    # dotted zero line of the net long axis
    shapes.append(dict(type="line", xref=xr + " domain", yref=yr2, x0=0, x1=1, y0=0, y1=0,
                       line=dict(color="#f0c020", width=2, dash="dot")))
    text(tx, 2794, title, size=14, bold=True)


# ---------------- header block ----------------
rect(0, 0, W, 43, fill="#0e1a2b")
for c in (236, 315, 403):
    vline(c, 0, 43, color="#2c3748")
text(148, 24, report_date, size=30, color="white")
text(716, 24, report_title, size=30, color="white")
rect(0, 43, W, 88, fill="#eeeeee")
hline(0, W, 66, color="#999")
hline(0, W, 88, color="#333", width=1.5)
text(540, 55, author_line, size=16, color="#7a7a7a")
text(540, 77, review_line, size=16, color="#7a7a7a")

for y in (111, 134):
    hline(0, W, y, color="#222", width=1.5)
hline(315, W, 211, color="#222", width=1.2)
vline(315, 88, 291, color="#222", width=1.2)
text(157, 100, "核心观点", size=17, bold=True)
text(697, 100, core_view, size=17)
text(157, 123, "风险提示", size=17, bold=True)
text(697, 123, risk_note, size=17)
text(157, 212, "逻辑梳理", size=17, bold=True)
text(318, 173, logic_1, size=18, anchor="left")
for i, ln in enumerate(logic_2):
    text(318, 229 + i * 23.5, ln, size=18, anchor="left")

# ---------------- tables ----------------
section_bar(291, 314, "一、产业链价格")
table(314, [24, 23, 23, 23, 23, 23, 23, 23], chain_rows)
section_bar(499, 523, "二、基差&月差")
table(523, [23, 23, 23, 22], basis_rows)
section_bar(1143, 1165, "三、价差、利润")
table(1165, [23, 24, 23, 23, 24, 22], spread_rows)
section_bar(2061, 2084, "四、下游")
down_ys = table(2084, [23, 23, 23], down_rows)
for cx in (840, 920):
    cy = down_ys[2]
    shapes.append(dict(type="path", xref="paper", yref="paper", fillcolor="#11803f", line=dict(width=0),
                       path=f"M {X(cx + 1)},{Y(cy + 1)} L {X(cx + 7)},{Y(cy + 1)} L {X(cx + 1)},{Y(cy + 7)} Z"))
section_bar(2687, 2709, "五、仓单")
table(2709, [24, 23, 22], receipt_rows)
section_bar(3060, 3083, "六、库存")
table(3083, [24, 46, 45], stock_rows, size=17)

# ---------------- charts ----------------
for k, spec in enumerate(SEASONAL, start=1):
    add_seasonal(k, spec)

add_dual(17, 19, "EB主力价格与前20净多持仓", 248, (52, 497), (2836, 2975), eb_dates, eb_main, eb_net, eb_net_ma20,
         ["EB主力", "EB净多持仓(右)", "EB净多持仓MA20(右)"], [6000, 12000], 1000, [-60000, 60000], 20000,
         (72, 2816), 92, "M3", ["2023-07-01", "2026-07-24"])
add_dual(18, 20, "BZ主力价格与前20净多持仓", 799, (611, 1033), (2836, 2994), bz_dates, bz_main, bz_net, bz_net_ma20,
         ["BZ主力", "BZ净多持仓（右）", "BZ净多持仓MA20（右）"], [5000, 10000], 1000, [-4000, 4000], 1000,
         (622, 2843), 0, "M1", ["2025-07-08", "2026-07-24"])

# ---------------- frame, source and legal notice ----------------
vline(0.8, 0, 3498, color="#222", width=1.5)
vline(1079.2, 0, 3498, color="#222", width=1.5)
text(5, 3491, source_note, size=14, color="#333", anchor="left")
hline(0, W, 3497, color="#999", width=3)
rect(2, 3502, W - 2, H - 1, color="#bbbbbb", width=1, dash="dot")
text(18, 3539, legal_title, size=20, color="#e0201c", anchor="left")
for i, (indent, ln) in enumerate(legal_lines):
    text(57 if indent else 10, 3581 + i * 33.8, ln, size=19.5, color="#a3a3a3", anchor="left")

fig.update_layout(width=W, height=H, margin=dict(l=0, r=0, t=0, b=0, autoexpand=False), paper_bgcolor="white",
                  plot_bgcolor="rgba(0,0,0,0)", showlegend=True, shapes=shapes, annotations=notes,
                  font=dict(family=FONT), **axes)

fig.write_html("out.html", post_script="document.body.style.margin='0';")
